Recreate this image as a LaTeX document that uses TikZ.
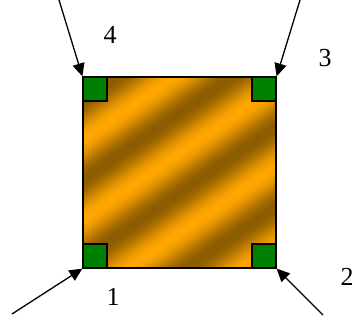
\documentclass[tikz,border=0pt]{standalone}
\usepackage{fontspec}
\setmainfont{Liberation Serif}
\usepackage{xcolor}
\usepackage{tikz}
\usetikzlibrary{arrows.meta,positioning}
\definecolor{Ink}{HTML}{000000}
\definecolor{Pad}{HTML}{008000}
% diagonal brass stripes, bright orange to dark brown
\pgfdeclarefunctionalshading{brass}{\pgfpoint{-50bp}{-50bp}}{\pgfpoint{50bp}{50bp}}{}{
  0.82 mul exch -0.57 mul add 21 mul sin 1 add 2 div
  dup 0.45 mul 0.55 add exch 0.29 mul 0.36 add 0
}

\begin{document}
\begin{tikzpicture}[x=1pt,y=1pt,>={Triangle[length=13pt,width=12pt]},
  plate/.style={draw=Ink,line width=1.2pt,shading=brass,minimum width=193pt,minimum height=191pt,inner sep=0pt},
  pad/.style={draw=Ink,line width=1.2pt,fill=Pad,minimum size=24pt,inner sep=0pt},
  feed/.style={Ink,line width=1.3pt,->},
  num/.style={font=\fontsize{26}{30}\selectfont,inner sep=0pt}]
  \useasboundingbox (0,0) rectangle (355,323);
  \node[plate] (sq) at (179.5,150.5) {};
  % corner pads
  \node[pad,anchor=south west] (p1) at (sq.south west) {};
  \node[pad,anchor=south east] (p2) at (sq.south east) {};
  \node[pad,anchor=north east] (p3) at (sq.north east) {};
  \node[pad,anchor=north west] (p4) at (sq.north west) {};
  % arrows into the corners
  \coordinate (s1) at (12,9);
  \coordinate (s2) at (323,8);
  \coordinate (s3) at (300,323);
  \coordinate (s4) at (59,323);
  \draw[feed] (s1) -- (sq.south west);
  \draw[feed] (s2) -- (sq.south east);
  \draw[feed] (s3) -- (sq.north east);
  \draw[feed] (s4) -- (sq.north west);
  % corner numbers
  \node[num] (n1) at (113,26) {1};
  \node[num] (n2) at (347,46) {2};
  \node[num] (n3) at (325,265) {3};
  \node[num] (n4) at (110,288) {4};
\end{tikzpicture}
\end{document}
